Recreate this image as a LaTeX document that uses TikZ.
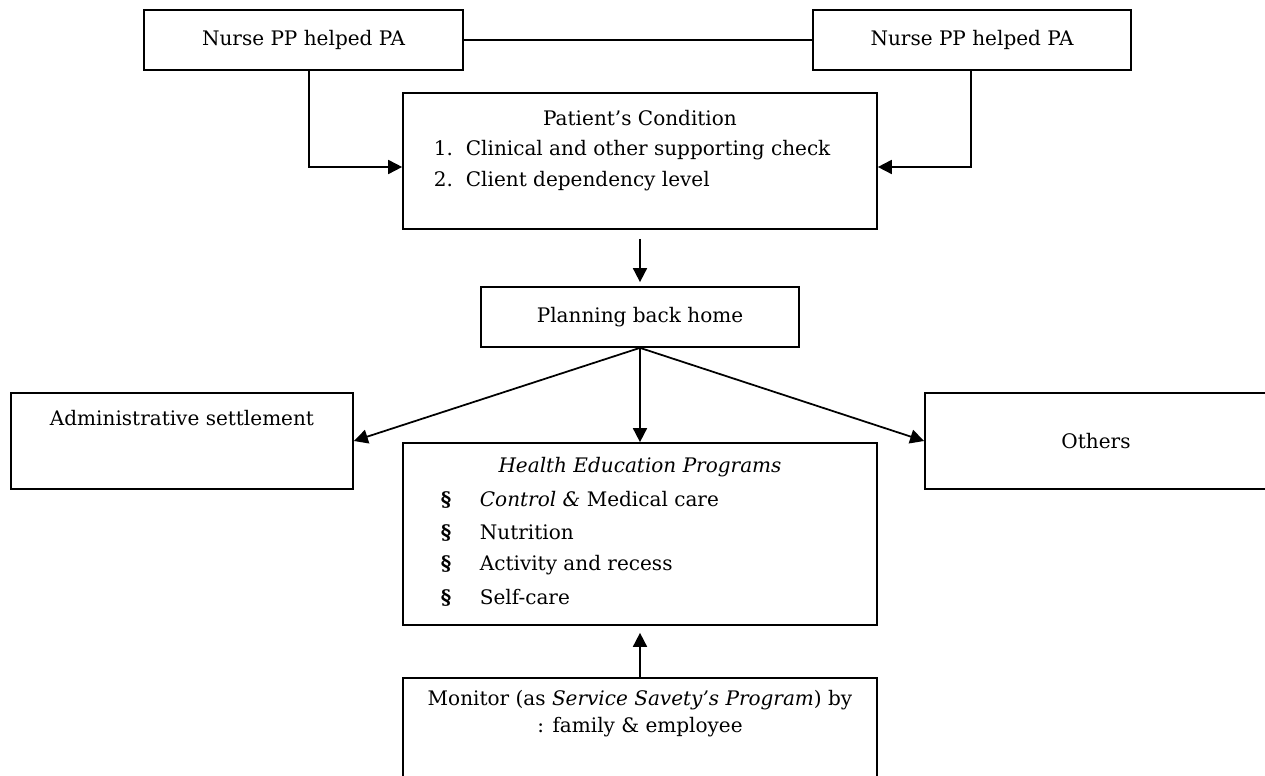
\documentclass[tikz,border=0pt]{standalone}
\usepackage{fontspec}
\setmainfont{DejaVu Serif}
\usetikzlibrary{arrows.meta}

\begin{document}
\begin{tikzpicture}[x=0.02cm, y=-0.02cm, line width=1pt,
    box/.style={draw, rectangle, inner sep=0pt},
    txt/.style={inner sep=0pt, font=\fontsize{11.4}{14}\selectfont},
    >={Triangle[length=0.28cm,width=0.28cm]}]
    \useasboundingbox (0,0) rectangle (1265,776);
    % nurses on top
    \node[box, txt, minimum width=6.38cm, minimum height=1.2cm] (nurseL) at (303.5,40) {Nurse PP helped PA};
    \node[box, txt, minimum width=6.36cm, minimum height=1.2cm] (nurseR) at (972,40) {Nurse PP helped PA};
    % patient's condition
    \node[box, minimum width=9.48cm, minimum height=2.72cm] (patient) at (640,161) {};
    \node[txt] (patientT) at (640,118) {Patient’s Condition};
    \node[txt, anchor=west] (patientA) at (433,150) {\makebox[0.64cm][l]{1.}Clinical and other supporting check};
    \node[txt, anchor=west] (patientB) at (433,181) {\makebox[0.64cm][l]{2.}Client dependency level};
    \node[box, txt, minimum width=6.36cm, minimum height=1.2cm] (planning) at (640,317) {Planning back home};
    % three branches
    \node[box, minimum width=6.84cm, minimum height=1.92cm] (admin) at (182,441) {};
    \node[txt] (adminT) at (182,418) {Administrative settlement};
    \node[box, txt, minimum width=6.84cm, minimum height=1.92cm] (others) at (1096,441) {Others};
    \node[box, minimum width=9.48cm, minimum height=3.64cm] (hep) at (640,534) {};
    \node[txt] (hepT) at (640,467) {\itshape Health Education Programs};
    \node[txt, anchor=west] (hepA) at (440,500) {\makebox[0.78cm][l]{\textbf{\S}}\textit{Control \&} Medical care};
    \node[txt, anchor=west] (hepB) at (440,533) {\makebox[0.78cm][l]{\textbf{\S}}Nutrition};
    \node[txt, anchor=west] (hepC) at (440,565) {\makebox[0.78cm][l]{\textbf{\S}}Activity and recess};
    \node[txt, anchor=west] (hepD) at (440,598) {\makebox[0.78cm][l]{\textbf{\S}}Self-care};
    % monitoring
    \node[box, minimum width=9.48cm, minimum height=2.44cm] (monitor) at (640,739) {};
    \node[txt] (monitorA) at (640,700) {Monitor (as \textit{Service Savety’s Program}) by};
    \node[txt] (monitorB) at (640,727) {: family \& employee};

    \draw (nurseL) -- (nurseR);
    \draw[->] ([xshift=0.11cm]nurseL.south) |- ([yshift=-0.12cm]patient.west);
    \draw[->] ([xshift=-0.02cm]nurseR.south) |- ([yshift=-0.12cm]patient.east);
    \draw[->, shorten <=0.18cm, shorten >=0.08cm] (patient) -- (planning);
    \draw[->] (planning.south) -- (admin.east);
    \draw[->] (planning.south) -- (hep.north);
    \draw[->] (planning.south) -- (others.west);
    \draw[->, shorten >=0.14cm] (monitor) -- (hep);
\end{tikzpicture}
\end{document}
